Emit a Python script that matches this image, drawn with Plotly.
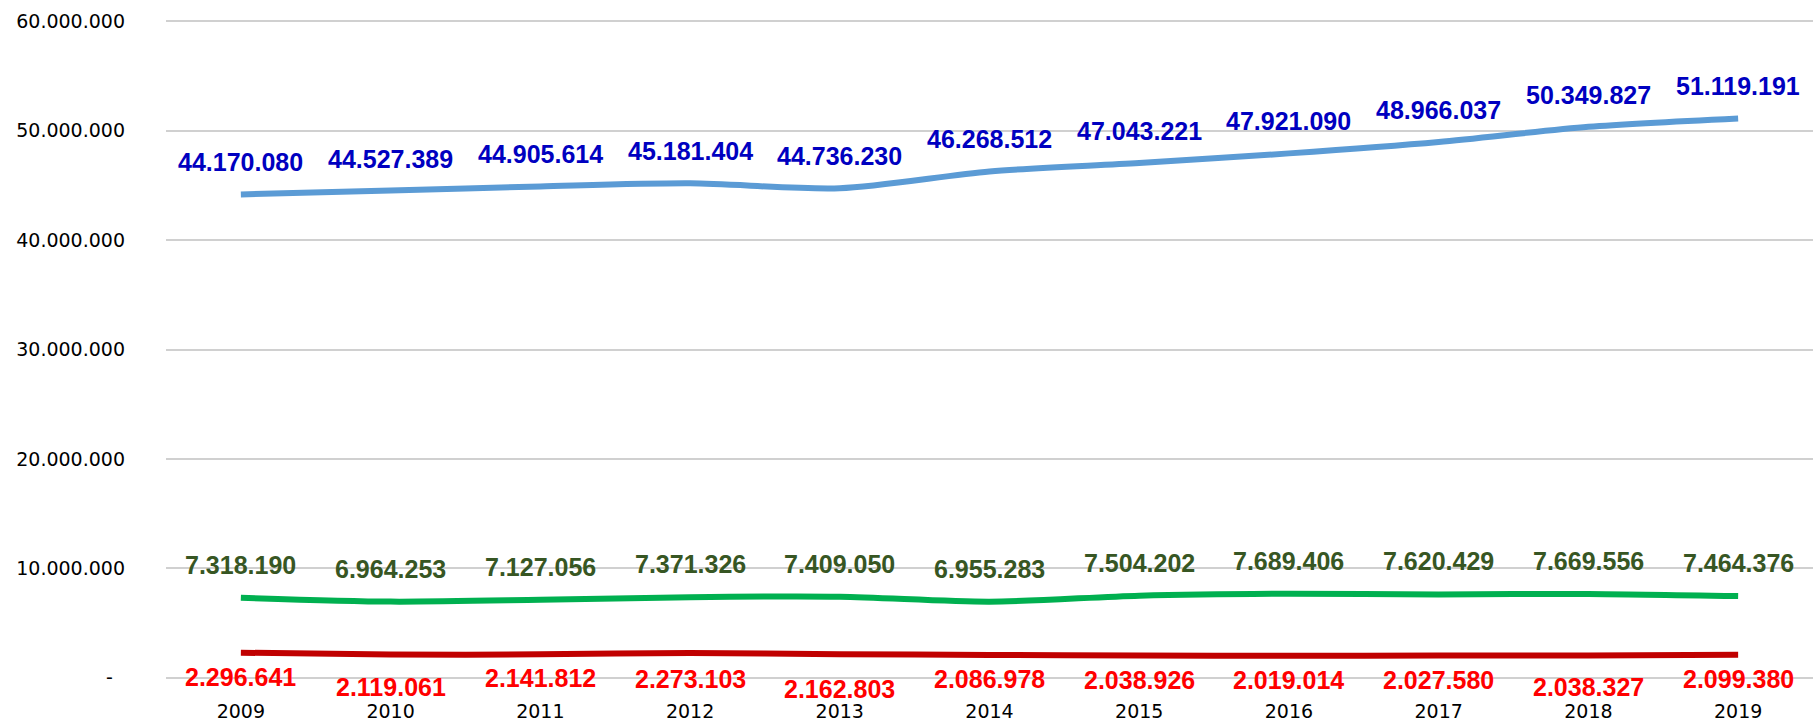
import plotly.graph_objects as go

years = ["2009", "2010", "2011", "2012", "2013", "2014", "2015", "2016", "2017", "2018", "2019"]
blue_values = [44170080, 44527389, 44905614, 45181404, 44736230, 46268512, 47043221, 47921090, 48966037, 50349827, 51119191]
green_values = [7318190, 6964253, 7127056, 7371326, 7409050, 6955283, 7504202, 7689406, 7620429, 7669556, 7464376]
red_values = [2296641, 2119061, 2141812, 2273103, 2162803, 2086978, 2038926, 2019014, 2027580, 2038327, 2099380]

y_tickvals = [0, 10000000, 20000000, 30000000, 40000000, 50000000, 60000000]
y_ticktext = ["-\u00a0\u00a0", "10.000.000", "20.000.000", "30.000.000", "40.000.000", "50.000.000", "60.000.000"]

# extra downward offsets of some red labels (manually moved in original)
red_extra_shift = [0, 8, 0, 2, 11, 0, 0, 0, 0, 7, 0]


def fmt(v):
    return f"{v:,}".replace(",", ".")


series = [
    (blue_values, "#5B9BD5", "#0000C0", 32, [0] * len(years)),
    (green_values, "#00B050", "#375623", 33, [0] * len(years)),
    (red_values, "#C00000", "#FF0000", -24, red_extra_shift),
]

fig = go.Figure()
annotations = []
for vals, lc, tc, shift, extra in series:
    fig.add_trace(go.Scatter(
        x=years, y=vals, mode="lines",
        line=dict(color=lc, width=6, shape="spline", smoothing=0.8),
        hoverinfo="skip", showlegend=False,
    ))
    for i, (v, e) in enumerate(zip(vals, extra)):
        annotations.append(dict(
            x=i, y=v, xref="x", yref="y", text=fmt(v), showarrow=False,
            yanchor="middle", xanchor="center", yshift=shift - e,
            font=dict(family="Liberation Sans, Arial", size=25, color=tc, weight="bold"),
        ))

fig.update_layout(
    width=1816, height=725,
    margin=dict(l=166, r=3, t=19, b=41, pad=0),
    paper_bgcolor="white", plot_bgcolor="white",
    annotations=annotations,
    xaxis=dict(
        type="category", range=[-0.5, 10.5], showgrid=False, zeroline=False,
        showline=False, ticks="", ticklabelstandoff=18,
        tickfont=dict(family="DejaVu Sans", size=19, color="#000000"),
    ),
    yaxis=dict(
        range=[-200000, 60200000], tickvals=y_tickvals, ticktext=y_ticktext,
        showgrid=True, gridcolor="#D0D0D0", gridwidth=2, zeroline=False,
        showline=False, ticks="", ticklabelstandoff=40,
        tickfont=dict(family="DejaVu Sans", size=19, color="#000000"),
    ),
)

fig.write_html(
    "out.html",
    config={"displayModeBar": False},
    post_script="document.body.style.margin='0';document.body.style.overflow='hidden';",
)
